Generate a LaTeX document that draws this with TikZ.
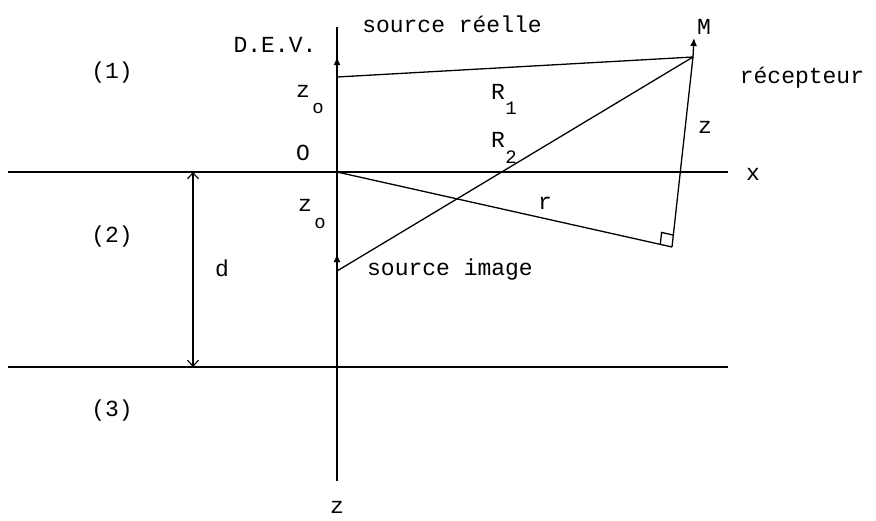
\documentclass[tikz,border=0pt]{standalone}
\usepackage{fontspec}
\setmonofont{Liberation Mono}
\usetikzlibrary{arrows.meta,calc}
\begin{document}
\begin{tikzpicture}[x=1pt,y=-1pt,
  ln/.style={line width=1.3pt},
  lab/.style={font=\ttfamily\fontsize{23}{26}\selectfont,inner sep=0pt},
  sub/.style={font=\ttfamily\fontsize{19}{22}\selectfont,inner sep=0pt},
  srcarrow/.style={ln,-{Latex[length=8pt,width=7pt]}},
  dimarrow/.style={line width=1.1pt,{Straight Barb[length=6pt,width=11pt]}-{Straight Barb[length=6pt,width=11pt]}}]
\useasboundingbox (0,0) rectangle (876,520);
% coordinates
\coordinate (Ztop) at (337,27);
\coordinate (Zbot) at (337,481);
\coordinate (XL) at (8,172);
\coordinate (XR) at (728,172);
\coordinate (BL) at (8,367);
\coordinate (BR) at (728,367);
\coordinate (O) at (337,172);
\coordinate (S1) at (337,77);
\coordinate (S1t) at (337,57);
\coordinate (S2) at (337,271);
\coordinate (S2t) at (337,254);
\coordinate (M) at (693,57);
\coordinate (Mt) at (694,38);
\coordinate (F) at (672,247);
\coordinate (Dt) at (193,172);
\coordinate (Db) at (193,367);
% lines
\draw[ln] (Ztop) -- (Zbot);
\draw[ln] (XL) -- (XR);
\draw[ln] (BL) -- (BR);
\draw[dimarrow] (Dt) -- (Db);
\draw[srcarrow] (S1) -- (S1t);
\draw[srcarrow] (S2) -- (S2t);
\draw[srcarrow] (M) -- (Mt);
\draw[ln] (S1) -- (M);
\draw[ln] (S2) -- (M);
\draw[ln] (O) -- (F);
\draw[ln] (F) -- (M);
% right-angle mark
\coordinate (Fa) at ($(F)!12pt!(O)$);
\coordinate (Fb) at ($(F)!12pt!(M)$);
\draw[ln] (Fa) -- ($(Fa)+(Fb)-(F)$) -- (Fb);
% labels
\node[lab] (dev) at (275,45) {D.E.V.};
\node[lab] (sr) at (452,24) {source réelle};
\node[lab] (lM) at (704,27) {M};
\node[lab] (rec) at (802,78) {récepteur};
\node[lab] (z1) at (705,127) {z};
\node[lab] (lx) at (753,174) {x};
\node[lab] (R1) at (498,92) {R};
\node[sub] (R1s) at (511,108) {1};
\node[lab] (R2) at (498,140) {R};
\node[sub] (R2s) at (511,157) {2};
\node[lab] (lr) at (545,203) {r};
\node[lab] (za) at (303,91) {z};
\node[sub] (zas) at (318,108) {o};
\node[lab] (lO) at (303,153) {O};
\node[lab] (zb) at (305,205) {z};
\node[sub] (zbs) at (320,223) {o};
\node[lab] (si) at (450,270) {source image};
\node[lab] (ld) at (222,268) {d};
\node[lab] (m1) at (112,73) {(1)};
\node[lab] (m2) at (112,237) {(2)};
\node[lab] (m3) at (112,411) {(3)};
\node[lab] (lz) at (337,507) {z};
\end{tikzpicture}
\end{document}
